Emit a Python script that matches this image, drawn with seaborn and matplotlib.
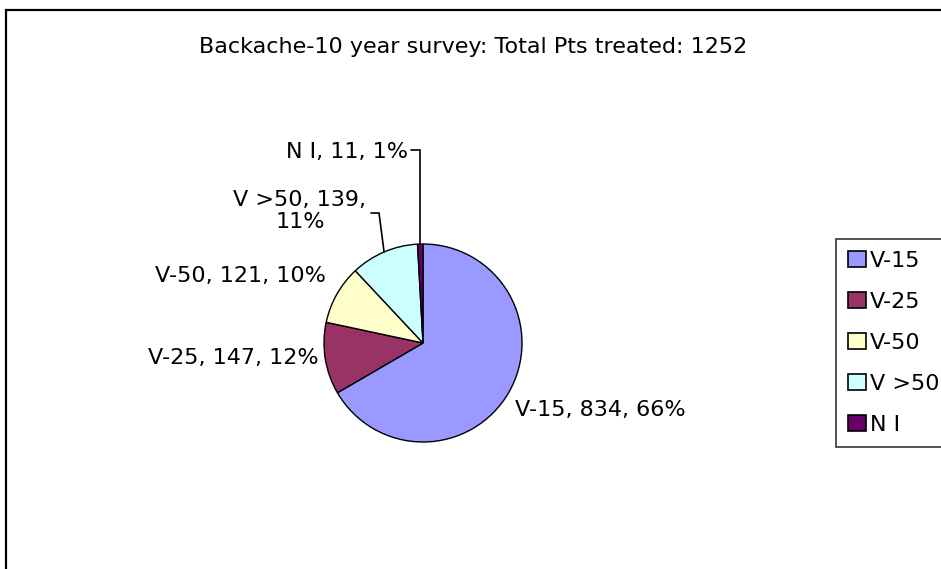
import matplotlib.pyplot as plt
from matplotlib.patches import Rectangle
import numpy as np
import seaborn as sns

# dados do gráfico
categorias = ["V-15", "V-25", "V-50", "V >50", "N I"]
pacientes = [834, 147, 121, 139, 11]
percentuais = ["66%", "12%", "10%", "11%", "1%"]
cores = ["#9999FF", "#993366", "#FFFFCC", "#CCFFFF", "#660066"]
titulo = "Backache-10 year survey: Total Pts treated: 1252"

W, H = 941, 569

sns.set_theme(style="white")
plt.rcParams['font.family'] = ['DejaVu Sans']
plt.rcParams['text.color'] = 'black'


def px(x, y):
    # converter coordenadas de pixel (origem no topo) para dados
    return x, H - y


fig = plt.figure(figsize=(W / 100, H / 100), dpi=100)
ax = fig.add_axes([0, 0, 1, 1])
ax.set_xlim(0, W)
ax.set_ylim(0, H)
ax.set_aspect('equal')
ax.axis('off')

# moldura do gráfico (cortada à direita e embaixo)
fig.add_artist(Rectangle((6 / W, -0.1), 1.2, 1.1 - 10 / H, transform=fig.transFigure,
                         fill=False, edgecolor='black', lw=1.6))

centro = px(423, 343)
raio = 99
wedges, _ = ax.pie(pacientes, colors=cores, startangle=90, counterclock=False,
                   center=centro, radius=raio,
                   wedgeprops=dict(edgecolor='black', linewidth=1))
ax.set_xlim(0, W)
ax.set_ylim(0, H)

fs = 16
ax.text(*px(473, 47), titulo, ha='center', va='center', fontsize=fs)

rotulos = [f"{c}, {v}, {p}" for c, v, p in zip(categorias, pacientes, percentuais)]
ax.text(*px(515, 410), rotulos[0], ha='left', va='center', fontsize=fs)
ax.text(*px(319, 358), rotulos[1], ha='right', va='center', fontsize=fs)
ax.text(*px(326, 276), rotulos[2], ha='right', va='center', fontsize=fs)
ax.text(*px(300, 211), f"{categorias[3]}, {pacientes[3]},\n{percentuais[3]}",
        ha='center', va='center', fontsize=fs, linespacing=1.15)
ax.text(*px(408, 152), rotulos[4], ha='right', va='center', fontsize=fs)


# linhas de chamada a partir da borda das fatias
def borda(w):
    ang = np.deg2rad((w.theta1 + w.theta2) / 2)
    return centro[0] + raio * np.cos(ang), centro[1] + raio * np.sin(ang)


bx, by = borda(wedges[3])
ax.plot([px(371, 213)[0], px(379, 213)[0], bx], [px(371, 213)[1], px(379, 213)[1], by],
        color='black', lw=1.2, solid_joinstyle='miter')
bx, by = borda(wedges[4])
ax.plot([px(411, 150)[0], bx, bx], [px(411, 150)[1], px(411, 150)[1], by],
        color='black', lw=1.2, solid_joinstyle='miter')

handles = [Rectangle((0, 0), 1, 1, facecolor=c, edgecolor='black', lw=1.2) for c in cores]
leg = fig.legend(handles, categorias, loc='upper left', bbox_to_anchor=(836 / W, 1 - 239 / H),
                 fontsize=fs, frameon=True, fancybox=False, handlelength=0.81, handleheight=0.72,
                 handletextpad=0.2, labelspacing=0.95, borderpad=0.52, borderaxespad=0)
leg.get_frame().set_edgecolor('black')
leg.get_frame().set_linewidth(1.2)

fig.savefig("out.png", dpi=100)
